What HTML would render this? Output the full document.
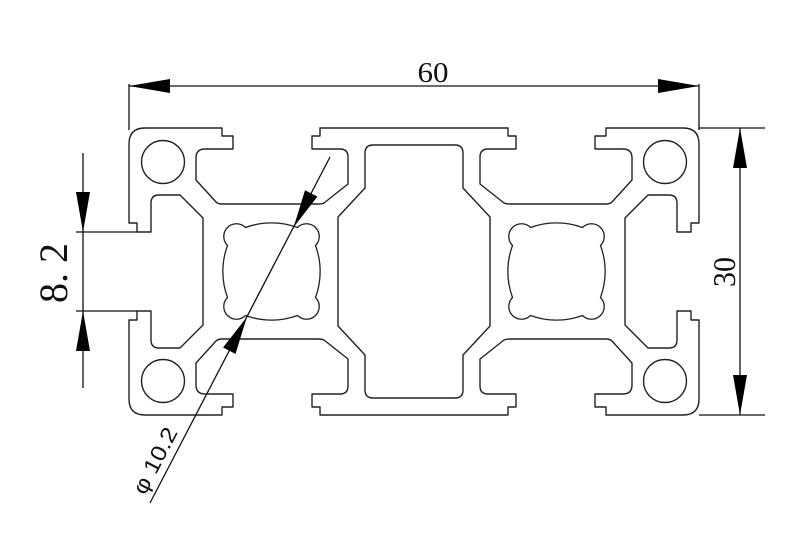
<!DOCTYPE html>
<html><head><meta charset="utf-8"><style>
html,body{margin:0;padding:0;background:#fff;}
svg{display:block;}
</style></head><body>
<svg width="800" height="538" viewBox="0 0 800 538" xmlns="http://www.w3.org/2000/svg">
<defs>
<g id="q" fill="none" stroke="#222" stroke-width="1.4" stroke-linejoin="round">
<path d="M414,128 L320,128 L320,136 L312,136 L312,149 L340,149 Q348,149 348,157 L348,184 L324,203 Q322,204 318,204 L222,204 Q218,204 216,202 L196,180 L196,158 Q196,149 205,149 L233,149 L233,136 L222,136 L222,128 L145,128 Q129,128 129,144 L129,223 L137,223 L137,232 L151,232 L151,203 Q151,195 159,195 L180,195 L203,218 L203,271.5"/>
<path d="M414,145 L373,145 Q365,145 365,153 L365,188 L338,217 L338,271.5"/>
<circle cx="163" cy="162" r="21.5"/>
</g>
<path id="cl" fill="none" stroke="#222" stroke-width="1.3" d="M-44,-26 A12,12 0 1 1 -26,-44 A75,75 0 0 1 26,-44 A12,12 0 1 1 44,-26 A75,75 0 0 1 44,26 A12,12 0 1 1 26,44 A75,75 0 0 1 -26,44 A12,12 0 1 1 -44,26 A75,75 0 0 1 -44,-26 Z"/>
</defs>
<use href="#q"/>
<use href="#q" transform="translate(828,0) scale(-1,1)"/>
<use href="#q" transform="translate(0,543) scale(1,-1)"/>
<use href="#q" transform="translate(828,543) scale(-1,-1)"/>
<use href="#cl" transform="translate(271.5,271.5)"/>
<use href="#cl" transform="translate(556.5,271.5)"/>

<g stroke="#111" stroke-width="1.3" fill="none">
<line x1="129" y1="86" x2="699" y2="86"/>
<line x1="129" y1="84" x2="129" y2="130"/>
<line x1="699" y1="84" x2="699" y2="130"/>
<line x1="699" y1="128" x2="765" y2="128"/>
<line x1="699" y1="415" x2="765" y2="415"/>
<line x1="740" y1="128" x2="740" y2="415"/>
<line x1="83" y1="153" x2="83" y2="388"/>
<line x1="76" y1="232" x2="137" y2="232"/>
<line x1="76" y1="311" x2="137" y2="311"/>
<line x1="330" y1="157" x2="150" y2="503"/>
</g>
<g fill="#000">
<polygon points="129,86 170,79 170,93"/>
<polygon points="699,86 658,79 658,93"/>
<polygon points="740,128 733,168 747,168"/>
<polygon points="740,415 733,375 747,375"/>
<polygon points="83,232 76,192 90,192"/>
<polygon points="83,311 76,351 90,351"/>
<polygon points="293.7,227 317.4,196.6 305,190.2"/>
<polygon points="246.9,317 235.5,353.9 223.1,347.5"/>
</g>
<g font-family="'Liberation Serif','Noto Serif CJK SC',serif" fill="#111">
<text x="433" y="82" font-size="28" text-anchor="middle" textLength="31" lengthAdjust="spacingAndGlyphs">60</text>
<text transform="translate(735,272) rotate(-90)" font-size="32" text-anchor="middle" textLength="30" lengthAdjust="spacingAndGlyphs">30</text>
<text transform="translate(67,273) rotate(-90)" font-size="40" text-anchor="middle" textLength="60" lengthAdjust="spacingAndGlyphs">8. 2</text>
</g>
<text transform="translate(145,496) rotate(-62.5)" font-family="'Liberation Sans',sans-serif" font-size="22" fill="#111" textLength="72" lengthAdjust="spacingAndGlyphs">φ 10.2</text>
</svg>
</body></html>
